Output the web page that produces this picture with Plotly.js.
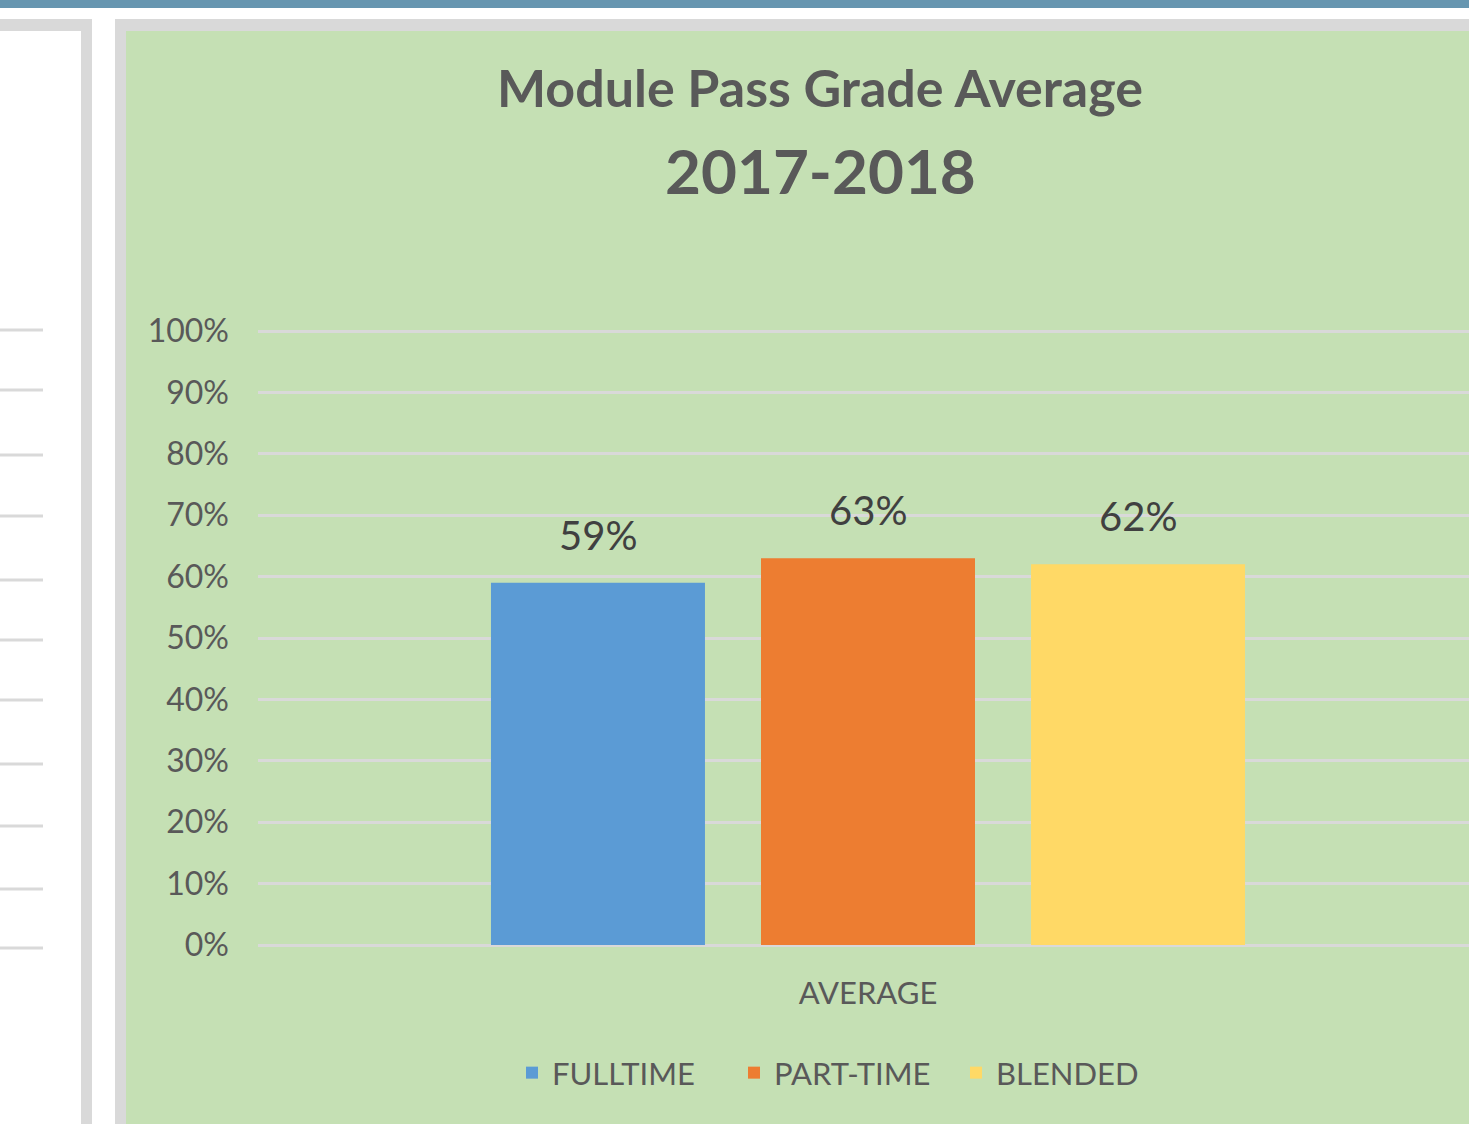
<!DOCTYPE html>
<html>
<head>
<meta charset="utf-8">
<script src="https://cdn.plot.ly/plotly-3.0.1.min.js"></script>
<style>
html,body{margin:0;padding:0;background:#ffffff;}
#chart{width:1469px;height:1124px;}
</style>
</head>
<body>
<div id="chart"></div>
<script>
// ---- data ----
const categories = ['AVERAGE'];
const seriesNames = ['FULLTIME', 'PART-TIME', 'BLENDED'];
const fulltime = [0.59];
const parttime = [0.63];
const blended = [0.62];
const yTickValues = [0, 0.1, 0.2, 0.3, 0.4, 0.5, 0.6, 0.7, 0.8, 0.9, 1.0];
const titleLine1 = 'Module Pass Grade Average';
const titleLine2 = '2017-2018';

// ---- styling ----
const W = 1469, H = 1124;
const plotL = 258, plotR = 1469, plotT = 320, plotB = 955;
const colors = ['#5B9BD5', '#ED7D31', '#FFD966'];
const green = '#C5E0B4';
const gray = '#D9D9D9';
const textGray = '#595959';
const FONT = 'Lato, "Open Sans", sans-serif';
const bargap = 0.336, bargroupgap = 0.2075;

// pixel -> paper helpers (for decoration only)
const px = v => (v - plotL) / (plotR - plotL);
const py = v => (plotB - v) / (plotB - plotT);

const seriesValues = [fulltime, parttime, blended];
const traces = seriesValues.map((vals, i) => ({
  type: 'bar',
  name: seriesNames[i],
  x: categories,
  y: vals,
  marker: {color: colors[i]},
  hoverinfo: 'skip'
}));

// data labels placed over each grouped bar, derived from the group geometry
const nSeries = seriesValues.length;
const slot = (1 - bargap) / nSeries;
const annotations = [];
seriesValues.forEach((vals, i) => {
  vals.forEach((v, j) => {
    annotations.push({
      xref: 'x', yref: 'y',
      x: j - (1 - bargap) / 2 + (i + 0.5) * slot,
      y: v,
      text: Math.round(v * 100) + '%',
      showarrow: false,
      yanchor: 'bottom',
      yshift: 22,
      font: {family: FONT, size: 40, color: '#404040'}
    });
  });
});
annotations.push({
  xref: 'paper', yref: 'paper',
  x: px(820), y: py(170),
  xanchor: 'center', yanchor: 'middle',
  text: '<b>' + titleLine2 + '</b>',
  showarrow: false,
  font: {family: FONT, size: 62, color: textGray}
});

// decoration shapes (surrounding worksheet)
const rect = (x0, y0, x1, y1, color) => ({
  type: 'rect', xref: 'paper', yref: 'paper', layer: 'below',
  x0: px(x0), x1: px(x1), y0: py(y0), y1: py(y1),
  fillcolor: color, line: {width: 0}
});
const shapes = [
  rect(0, 0, W, 8, '#6796B0'),
  rect(0, 19, 92, H, gray),
  rect(0, 31, 81, H, '#FFFFFF'),
  rect(115, 19, W, H, gray),
  rect(126, 31, W, H, green)
];
[330, 390, 455, 516, 580, 640, 700, 764, 826, 889, 948].forEach(y => {
  shapes.push({
    type: 'line', xref: 'paper', yref: 'paper', layer: 'below',
    x0: px(0), x1: px(43), y0: py(y), y1: py(y),
    line: {color: gray, width: 3}
  });
});

const yUnit = (945 - 331); // px per 100%
const layout = {
  width: W, height: H,
  paper_bgcolor: '#FFFFFF',
  plot_bgcolor: 'rgba(0,0,0,0)',
  margin: {l: plotL, r: W - plotR, t: plotT, b: H - plotB, pad: 0},
  barmode: 'group',
  bargap: bargap,
  bargroupgap: bargroupgap,
  showlegend: true,
  title: {
    text: '<b>' + titleLine1 + '</b>',
    font: {family: FONT, size: 52, color: textGray},
    xref: 'container', yref: 'container',
    x: 820 / W, xanchor: 'center',
    y: 1 - 89 / H, yanchor: 'middle'
  },
  xaxis: {
    type: 'category',
    range: [-0.5, 0.5 - (1478 - plotR) / (1478 - plotL)],
    showgrid: false, zeroline: false, showline: false,
    ticks: '',
    ticklabelstandoff: 17,
    tickfont: {family: FONT, size: 31, color: textGray},
    fixedrange: true
  },
  yaxis: {
    range: [-(plotB - 945) / yUnit, 1 + (331 - plotT) / yUnit],
    tickvals: yTickValues,
    tickformat: '.0%',
    showgrid: true, gridcolor: gray, gridwidth: 3,
    zeroline: false, showline: false,
    ticks: '',
    ticklabelstandoff: 28,
    tickfont: {family: FONT, size: 32, color: textGray},
    fixedrange: true
  },
  legend: {
    orientation: 'h',
    x: px(845), xanchor: 'center',
    y: py(1073), yanchor: 'middle',
    bgcolor: 'rgba(0,0,0,0)',
    entrywidth: 177,
    entrywidthmode: 'pixels',
    font: {family: FONT, size: 31, color: textGray},
    traceorder: 'normal'
  },
  annotations: annotations,
  shapes: shapes
};

Plotly.newPlot('chart', traces, layout, {displayModeBar: false, staticPlot: true});
</script>
</body>
</html>
